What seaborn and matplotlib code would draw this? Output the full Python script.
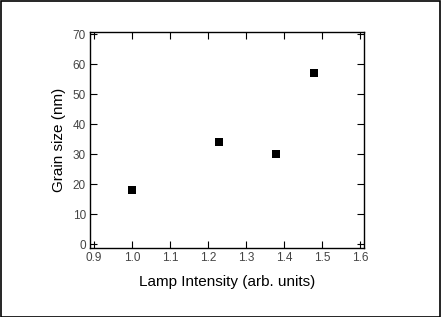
import matplotlib
matplotlib.use("Agg")
import matplotlib.pyplot as plt
import seaborn as sns
import pandas as pd
from matplotlib.patches import Rectangle

intensity = [1.0, 1.23, 1.38, 1.48]
grain_size = [18, 34, 30, 57]
x_ticks = [0.9, 1.0, 1.1, 1.2, 1.3, 1.4, 1.5, 1.6]
y_ticks = [0, 10, 20, 30, 40, 50, 60, 70]

sns.set_theme(style="ticks")
plt.rcParams['font.family'] = ['Liberation Sans', 'DejaVu Sans']

df = pd.DataFrame({"x": intensity, "y": grain_size})

W, H = 441, 317
fig = plt.figure(figsize=(W / 100, H / 100), dpi=100)
ax = fig.add_axes([90 / W, 1 - 248 / H, (364 - 90) / W, (248 - 32) / H])
sns.scatterplot(data=df, x="x", y="y", ax=ax, marker="s", s=34, color="black",
                edgecolor="black", linewidth=0)

ax.set_xlim(0.8895, 1.6105)
ax.set_ylim(-1.2, 70.7)
ax.set_xticks(x_ticks)
ax.set_yticks(y_ticks)
ax.set_xticklabels([f"{v:.1f}" for v in x_ticks])
ax.set_yticklabels([str(v) for v in y_ticks])
ax.tick_params(direction="in", top=True, right=True, length=5, width=0.8,
               labelsize=8.5, colors="black", labelcolor="#444444", pad=3)
for s in ax.spines.values():
    s.set_linewidth(1.0)
    s.set_color("black")
ax.set_xlabel("Lamp Intensity (arb. units)", fontsize=11, color="black", labelpad=8)
ax.set_ylabel("Grain size (nm)", fontsize=11, color="black", labelpad=5)

fig.patches.append(Rectangle((0.5 / W, 0.5 / H), 1 - 1.5 / W, 1 - 1.5 / H,
                             transform=fig.transFigure, fill=False,
                             edgecolor="black", linewidth=1.2))
fig.savefig("out.png", dpi=100)
